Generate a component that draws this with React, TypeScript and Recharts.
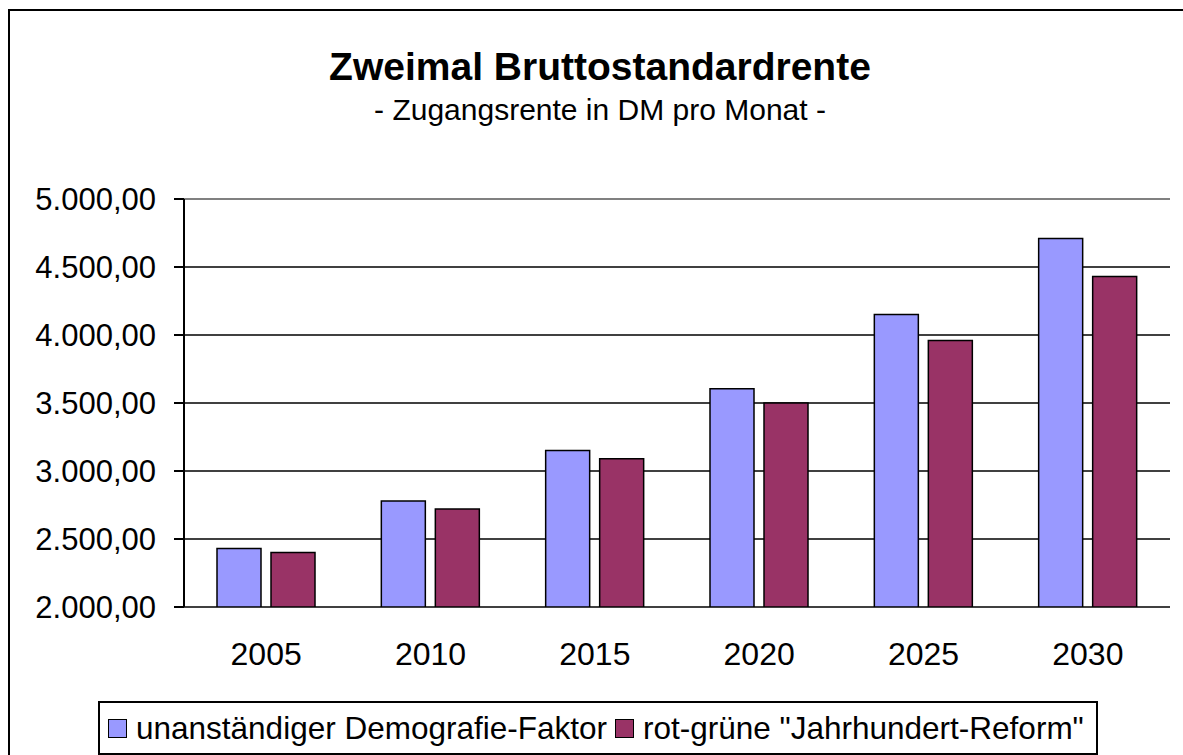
import { Bar, BarChart, CartesianGrid, ReferenceLine, XAxis, YAxis } from "recharts";

const years = ["2005", "2010", "2015", "2020", "2025", "2030"];
const demografieFaktor = [2430, 2780, 3150, 3605, 4150, 4710];
const jahrhundertReform = [2400, 2720, 3090, 3500, 3960, 4430];
const yTicks = [2000, 2500, 3000, 3500, 4000, 4500, 5000];
const boundaryTicks = [0, 1, 2, 3, 4, 5, 6];

const series = [
  { key: "demo", name: "unanständiger Demografie-Faktor", color: "#9999ff" },
  { key: "reform", name: 'rot-grüne "Jahrhundert-Reform"', color: "#993366" },
];

const data = years.map((year, i) => ({
  year,
  demo: demografieFaktor[i],
  reform: jahrhundertReform[i],
}));

// 5000 -> "5.000,00"
function formatDe(value: number) {
  const [int, dec] = value.toFixed(2).split(".");
  return int.replace(/\B(?=(\d{3})+(?!\d))/g, ".") + "," + dec;
}

const font = '"Liberation Sans", Arial, sans-serif';

export default function App() {
  // fixed to the viewport so the clipped frame never makes the page scroll
  return (
    <div
      style={{
        position: "fixed",
        left: 0,
        top: 0,
        width: 1183,
        height: 755,
        overflow: "hidden",
        fontFamily: font,
        color: "#000",
        background: "#fff",
      }}
    >
      <div
        style={{
          position: "absolute",
          left: 8,
          top: 9,
          width: 1300,
          height: 900,
          border: "2px solid #000",
          boxSizing: "border-box",
        }}
      />
      <div
        style={{
          position: "absolute",
          left: 8,
          width: 1184,
          top: 47,
          textAlign: "center",
          fontSize: 39,
          fontWeight: "bold",
          lineHeight: 1,
        }}
      >
        Zweimal Bruttostandardrente
      </div>
      <div
        style={{
          position: "absolute",
          left: 8,
          width: 1184,
          top: 95,
          textAlign: "center",
          fontSize: 30,
          lineHeight: 1,
        }}
      >
        - Zugangsrente in DM pro Monat -
      </div>

      <div style={{ position: "absolute", left: 8, top: 8 }}>
        <BarChart
          width={1175}
          height={747}
          data={data}
          barSize={44}
          barGap={10}
          margin={{ top: 191, right: 13, bottom: 78, left: 16 }}
        >
          <CartesianGrid vertical={false} stroke="#000" strokeWidth={1.5} />
          <XAxis
            xAxisId="bounds"
            type="number"
            domain={[0, 6]}
            ticks={boundaryTicks}
            tick={false}
            tickSize={10}
            height={0}
            axisLine={{ stroke: "#000", strokeWidth: 2 }}
            tickLine={{ stroke: "#000", strokeWidth: 2 }}
          />
          <XAxis
            xAxisId="cat"
            dataKey="year"
            height={70}
            axisLine={false}
            tickLine={false}
            tickSize={0}
            tickMargin={35}
            tick={{ fontSize: 32, fill: "#000", fontFamily: font }}
          />
          <YAxis
            width={160}
            domain={[2000, 5000]}
            ticks={yTicks}
            allowDataOverflow
            tickFormatter={(v: number) => formatDe(Number(v))}
            tickSize={10}
            tickMargin={18}
            axisLine={{ stroke: "#000", strokeWidth: 2 }}
            tickLine={{ stroke: "#000", strokeWidth: 2 }}
            tick={{ fontSize: 31, fill: "#000", fontFamily: font }}
          />
          <YAxis
            yAxisId="right"
            orientation="right"
            width={0}
            domain={[2000, 5000]}
            tick={false}
            tickLine={false}
            axisLine={{ stroke: "#808080", strokeWidth: 2 }}
          />
          <ReferenceLine y={5000} stroke="#808080" strokeWidth={2} xAxisId="cat" />
          {series.map((s) => (
            <Bar
              key={s.key}
              dataKey={s.key}
              name={s.name}
              xAxisId="cat"
              fill={s.color}
              stroke="#000"
              strokeWidth={1.5}
              isAnimationActive={false}
            />
          ))}
        </BarChart>
      </div>

      <div
        style={{
          position: "absolute",
          left: 98,
          top: 701,
          width: 1000,
          height: 54,
          border: "2px solid #000",
          boxSizing: "border-box",
          display: "flex",
          alignItems: "center",
          paddingLeft: 8,
          fontSize: 31.5,
          whiteSpace: "nowrap",
          background: "#fff",
        }}
      >
        {series.map((s, i) => (
          <div
            key={s.key}
            style={{ display: "flex", alignItems: "center", marginLeft: i ? 8 : 0, flexShrink: 0 }}
          >
            <span
              style={{
                width: 19,
                height: 19,
                background: s.color,
                border: "1.5px solid #000",
                boxSizing: "border-box",
                marginRight: 9,
                flexShrink: 0,
              }}
            />
            <span>{s.name}</span>
          </div>
        ))}
      </div>
    </div>
  );
}
